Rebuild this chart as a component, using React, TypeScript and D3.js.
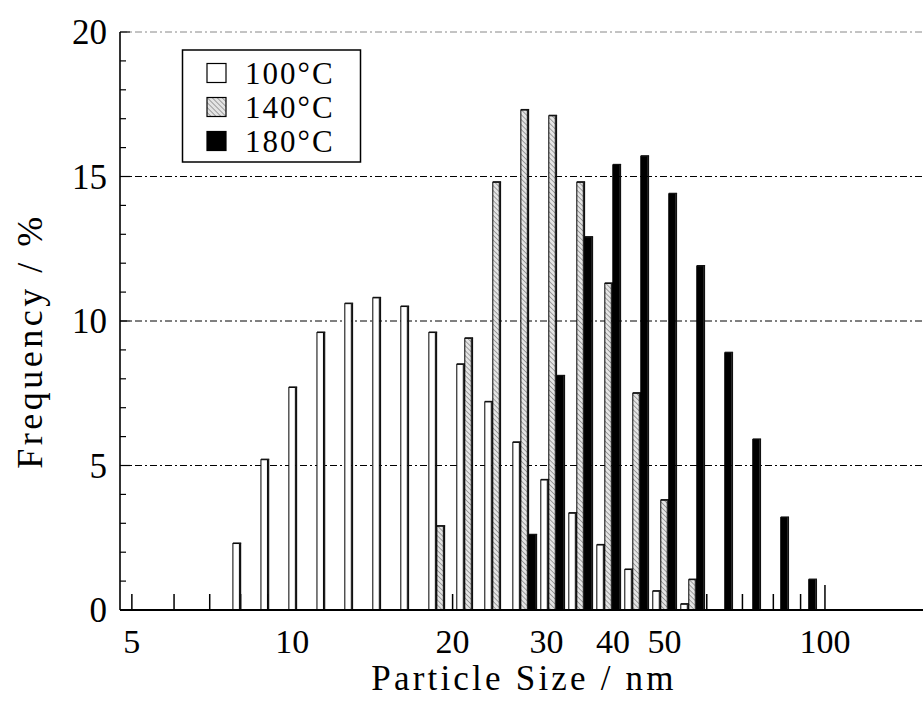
import React from "react";
import * as d3 from "d3";

// Particle-size bins (nm, geometric bin centres)
const sizes = [8.15, 9.2, 10.38, 11.72, 13.22, 14.92, 16.84, 19.01, 21.45, 24.21, 27.33, 30.84, 34.81, 39.29, 44.34, 50.04, 56.48, 63.74, 71.94, 81.19, 91.63];

// Frequency (%) per bin for each synthesis temperature
const freq100 = [2.3, 5.2, 7.7, 9.6, 10.6, 10.8, 10.5, 9.6, 8.5, 7.2, 5.8, 4.5, 3.35, 2.25, 1.4, 0.65, 0.2, 0, 0, 0, 0];
const freq140 = [0, 0, 0, 0, 0, 0, 0, 2.9, 9.4, 14.8, 17.3, 17.1, 14.8, 11.3, 7.5, 3.8, 1.05, 0, 0, 0, 0];
const freq180 = [0, 0, 0, 0, 0, 0, 0, 0, 0, 0, 2.6, 8.1, 12.9, 15.4, 15.7, 14.4, 11.9, 8.9, 5.9, 3.2, 1.05];

const seriesNames = ["100°C", "140°C", "180°C"];

const xTickLabels = [5, 10, 20, 30, 40, 50, 100];
const xMajorTicks = [10, 100];
const xMinorTicks = [5, 6, 7, 8, 9, 20, 30, 40, 50, 60, 70, 80, 90];
const yTickLabels = [0, 5, 10, 15, 20];
const yGrid = [5, 10, 15, 20];

const W = 923;
const H = 711;
const left = 120;
const top = 32;
const bottom = 610;

const fills = ["#ffffff", "url(#hatch)", "#000000"];

export default function App() {
  const x = d3.scaleLog().domain([4.75, 160]).range([left, 933.7]);
  const y = d3.scaleLinear().domain([0, 20]).range([bottom, top]);
  const series = [freq100, freq140, freq180];
  const barW = 6.5;
  const slot = 8;
  const font = "'Liberation Serif', 'Times New Roman', serif";

  const bars: React.ReactNode[] = [];
  sizes.forEach((s, k) => {
    const cx = x(s);
    series.forEach((vals, i) => {
      const v = vals[k];
      if (!v) return;
      const x0 = cx - (slot * 3) / 2 + slot * i;
      const yt = y(v);
      bars.push(
        <g key={`${k}-${i}`}>
          <rect x={x0} y={yt} width={barW} height={bottom - yt} fill={fills[i]} stroke="#000" strokeWidth={1} />
          <line x1={x0 + barW + 1.2} x2={x0 + barW + 1.2} y1={yt - 0.5} y2={bottom} stroke="#111" strokeWidth={1.2} />
          <line x1={x0} x2={x0 + barW + 1.8} y1={yt - 0.5} y2={yt - 0.5} stroke="#111" strokeWidth={1.2} />
        </g>
      );
    });
  });

  return (
    <svg width={W} height={H} style={{ position: "absolute", left: 0, top: 0, background: "#fff" }} fontFamily={font}>
      <defs>
        <pattern id="hatch" patternUnits="userSpaceOnUse" width={3.5} height={3.5} patternTransform="rotate(-45)">
          <rect width={3.5} height={3.5} fill="#e4e4e4" />
          <line x1={0} y1={0} x2={0} y2={3.5} stroke="#7a7a7a" strokeWidth={1.3} />
        </pattern>
      </defs>
      <rect width={W} height={H} fill="#fff" />

      {/* horizontal grid */}
      {yGrid.map((g) => (
        <line key={g} x1={left} x2={W} y1={y(g)} y2={y(g)} stroke={g === 20 ? "#888" : "#000"} strokeWidth={1} strokeDasharray="7 3 2 3" />
      ))}

      {/* x ticks */}
      {xMinorTicks.map((t) => (
        <line key={`mn${t}`} x1={x(t)} x2={x(t)} y1={bottom} y2={bottom - 16} stroke="#000" strokeWidth={1.5} />
      ))}
      {xMajorTicks.map((t) => (
        <line key={`mj${t}`} x1={x(t)} x2={x(t)} y1={bottom} y2={bottom - 25} stroke="#000" strokeWidth={1.5} />
      ))}

      {/* y ticks */}
      {d3.range(0, 21).map((t) => (
        <line key={`yt${t}`} x1={left} x2={left + (t % 5 === 0 ? 10 : 6)} y1={y(t)} y2={y(t)} stroke="#000" strokeWidth={1.2} />
      ))}

      {bars}

      {/* axes */}
      <line x1={left} x2={left} y1={top} y2={bottom} stroke="#000" strokeWidth={1.6} />
      <line x1={left} x2={W} y1={bottom} y2={bottom} stroke="#000" strokeWidth={2} />

      {/* tick labels */}
      {xTickLabels.map((t) => (
        <text key={`xl${t}`} x={x(t)} y={653} textAnchor="middle" fontSize={34}>
          {t}
        </text>
      ))}
      {yTickLabels.map((t) => (
        <text key={`yl${t}`} x={107} y={y(t) + 12} textAnchor="end" fontSize={35}>
          {t}
        </text>
      ))}

      {/* axis titles */}
      <text x={524} y={690} textAnchor="middle" fontSize={35} letterSpacing={3.2}>
        Particle Size / nm
      </text>
      <text transform={`translate(42, 341) rotate(-90)`} textAnchor="middle" fontSize={36} letterSpacing={3.5}>
        Frequency / %
      </text>

      {/* legend */}
      <rect x={182.5} y={50} width={178} height={112} fill="#fff" stroke="#000" strokeWidth={1.5} />
      {seriesNames.map((n, i) => {
        const cy = 73 + i * 34;
        return (
          <g key={n}>
            <rect x={207} y={cy - 9.5} width={19} height={19} fill={fills[i]} stroke="#000" strokeWidth={1.2} />
            <text x={245} y={cy + 10.5} fontSize={31} letterSpacing={2}>
              {n}
            </text>
          </g>
        );
      })}
    </svg>
  );
}
